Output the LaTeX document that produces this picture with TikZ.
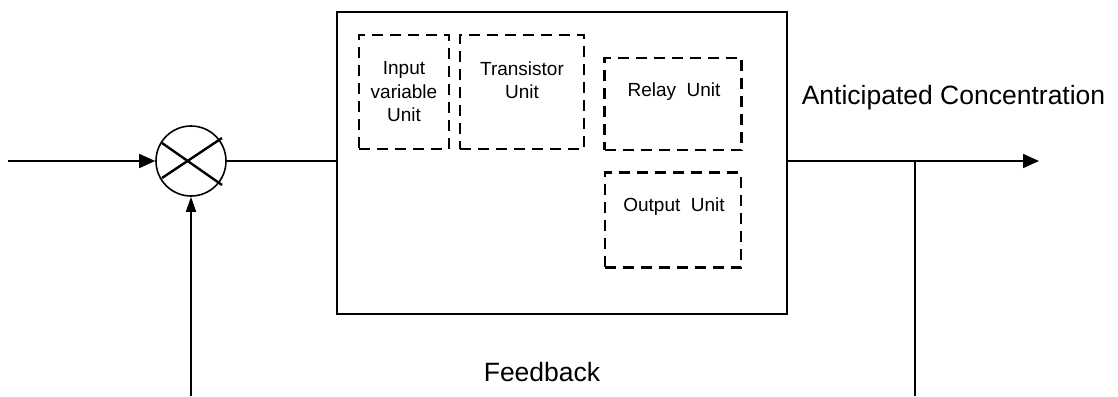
\documentclass[tikz,border=0pt]{standalone}
\usepackage{fontspec}
\setmainfont{Liberation Sans}
\usetikzlibrary{arrows.meta}
\begin{document}
\begin{tikzpicture}
  [x=1pt,y=-1pt,line width=1.6pt,
   every node/.style={font=\fontsize{19}{23.5}\selectfont,inner sep=0pt}]
  \tikzstyle{unitbox} = [draw,dash pattern=on 11pt off 7pt,line width=2.3pt]
  \tikzstyle{bigtext} = [font=\fontsize{26.5}{30}\selectfont]
  \tikzstyle{flow} = [-{Triangle[length=16pt,width=14pt]}]
  \tikzstyle{fbflow} = [-{Triangle[length=15pt,width=10pt]}]
  \useasboundingbox (0,0) rectangle (1118,396);

  % summing point and controller block
  \node[draw,circle,minimum size=70pt] (sum) at (191,161) {};
  \node[draw,minimum width=450pt,minimum height=302pt] (ctrl) at (562,163) {};

  % units inside the controller
  \node[unitbox,minimum width=90pt,minimum height=114pt] (inunit) at (404,92) {};
  \node[unitbox,minimum width=124pt,minimum height=114pt] (trunit) at (522,92) {};
  \node[unitbox,minimum width=137pt,minimum height=92pt] (relunit) at (673,104) {};
  \node[unitbox,minimum width=136pt,minimum height=95pt] (outunit) at (673,220) {};
  \node[align=center] (intxt) at (404,92) {Input\\variable\\Unit};
  \node[align=center] (trtxt) at (522,80) {Transistor\\Unit};
  \node (reltxt) at (674,92) {Relay\ \ Unit};
  \node (outtxt) at (674,207) {Output\ \ Unit};

  % cross in the summing point
  \draw[line width=2.4pt] ([shift={(-29,-18)}]sum.center) -- ([shift={(31,24)}]sum.center);
  \draw[line width=2.4pt] ([shift={(-29,17)}]sum.center) -- ([shift={(31,-23)}]sum.center);

  % signal paths
  \coordinate (in) at (8,161);
  \coordinate (out) at (1039,161);
  \coordinate (branch) at (915,161);
  \coordinate (fbend) at (915,396);
  \coordinate (fbstart) at (191,396);
  \draw[flow] (in) -- (sum);
  \draw (sum) -- (sum -| ctrl.west);
  \draw[flow] (sum -| ctrl.east) -- (out);
  \draw (branch) -- (fbend);
  \draw[fbflow] (fbstart) -- (sum);

  \node[bigtext,anchor=west] (anttxt) at (801,98) {Anticipated Concentration};
  \node[bigtext] (fbtxt) at (542,372) {Feedback};

\end{tikzpicture}
\end{document}
